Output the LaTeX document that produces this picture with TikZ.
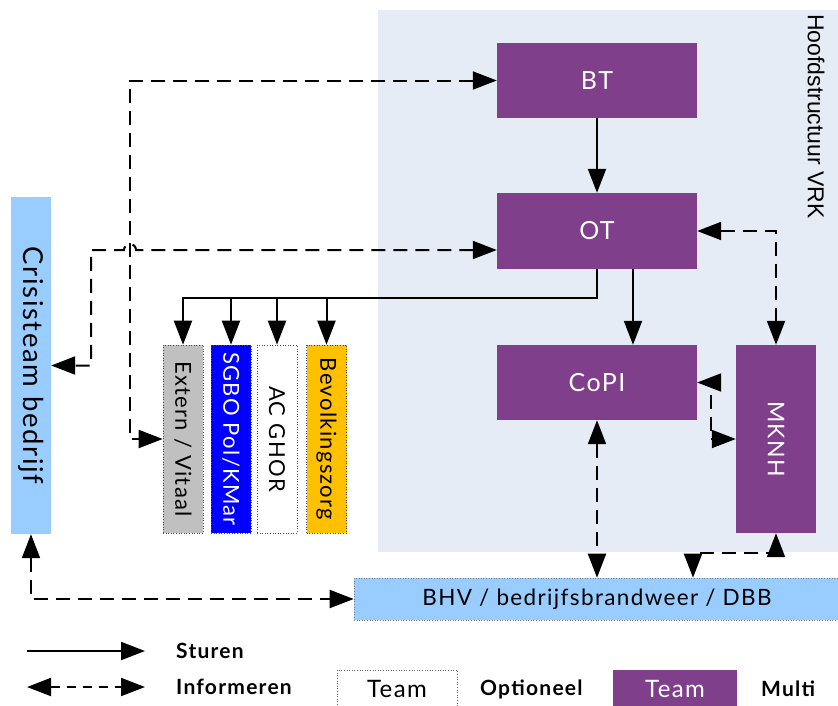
\documentclass[tikz,border=0pt]{standalone}
\usepackage{fontspec}
\usepackage{graphicx}
\setmainfont{Lato}[LetterSpace=6]
\newfontfamily\arialfont{Liberation Sans}
\usetikzlibrary{arrows.meta,calc}

\definecolor{vrkpaars}{RGB}{127,63,139}
\definecolor{vrkachter}{RGB}{230,236,246}
\definecolor{lichtblauw}{RGB}{153,204,255}
\definecolor{extgrijs}{RGB}{192,192,192}
\definecolor{sgboblauw}{RGB}{0,0,255}
\definecolor{bzoranje}{RGB}{255,192,0}

\begin{document}
\begin{tikzpicture}[x=1pt,y=-1pt,
    every node/.style={font=\fontsize{22}{26}\selectfont, inner sep=0pt},
    team/.style={fill=vrkpaars, text=white, minimum width=200pt, minimum height=75pt, font=\fontsize{25}{29}\selectfont},
    kolom/.style={draw=black!70, dotted, line width=0.6pt, minimum width=40pt, minimum height=188pt},
    stuur/.style={line width=2pt, -{Triangle[length=24pt,width=18pt]}},
    info/.style={line width=2pt, dash pattern=on 14pt off 8pt,
        {Triangle[length=24pt,width=18pt]}-{Triangle[length=24pt,width=18pt]}},
    legtekst/.style={font=\fontsize{21}{25}\selectfont\bfseries, anchor=west}]

    \useasboundingbox (0,0) rectangle (838,705);
    % hoofdstructuur
    \fill[vrkachter] (378,10) rectangle (838,552);
    \node[font=\arialfont\fontsize{23}{27}\selectfont, anchor=north] (hfd) at (816,14) {\rotatebox{-90}{Hoofdstructuur VRK}};

    \node[team] (bt) at (597,80.5) {BT};
    \node[team, minimum height=76pt] (ot) at (597,231) {OT};
    \node[team] (copi) at (597,382.5) {CoPI};
    \node[team, minimum width=80pt, minimum height=188pt, font=\fontsize{23}{27}\selectfont] (mknh) at (776,439) {\rotatebox{-90}{MKNH}};

    \node[fill=lichtblauw, minimum width=40pt, minimum height=337pt, font=\fontsize{27.5}{32}\selectfont] (crisis) at (31,365.5) {\rotatebox{-90}{Crisisteam bedrijf}};
    \node[kolom, fill=extgrijs] (ext) at (183,439) {\rotatebox{-90}{Extern / Vitaal}};
    \node[kolom, fill=sgboblauw, text=white] (sgbo) at (231,439) {\rotatebox{-90}{SGBO Pol/KMar}};
    \node[kolom, fill=white] (ghor) at (277,439) {\rotatebox{-90}{AC GHOR}};
    \node[kolom, fill=bzoranje] (bevz) at (326.5,439) {\rotatebox{-90}{Bevolkingszorg}};
    \node[draw=black!50, dotted, line width=0.6pt, fill=lichtblauw, minimum width=486pt, minimum height=42pt, font=\fontsize{22.5}{26}\selectfont] (bhv) at (597,599) {BHV / bedrijfsbrandweer / DBB};

    \coordinate (hopx) at (130,0);
    \coordinate (linksx) at (91,0);
    \coordinate (otin) at ($(ot.west)+(0,19)$);

    % sturen
    \draw[stuur] (bt.south) -- (ot.north);
    \draw[stuur] ($(ot.south)+(36,0)$) -- ($(copi.north)+(36,0)$);
    \foreach \k in {ext,sgbo,ghor,bevz}
        \draw[stuur] (ot.south) -- ++(0,29) -| (\k.north);

    % informeren
    \draw[info] (ot.east) -| (mknh.north);
    \draw[info] (copi.east) -- ++(14,0) |- (mknh.west);
    \draw[info] (copi.south) -- (copi.south |- bhv.north);
    \draw[info] (mknh.south) -- ++(0,20) -| ($(bhv.north)+(96,0)$);
    \draw[info] (crisis.south) |- (bhv.west);
    \draw[info] (bt.west) -| (hopx |- ext.west) -- (ext.west);
    \draw[info] (otin) -- ($(otin -| hopx)+(6,0)$) arc[start angle=0, end angle=-180, radius=6] -- (otin -| linksx) |- (crisis.east);

    % legenda
    \coordinate (s1) at (27,651);
    \coordinate (s2) at (145,651);
    \draw[stuur] (s1) -- (s2);
    \node[legtekst] (sturen) at (176,651) {Sturen};
    \coordinate (i1) at (27,687);
    \coordinate (i2) at (145,687);
    \draw[info, dash pattern=on 9pt off 7pt] (i1) -- (i2);
    \node[legtekst] (inform) at (176,687) {Informeren};
    \node[draw=black!60, dotted, line width=0.6pt, fill=white, minimum width=120pt, minimum height=38pt, font=\fontsize{24}{28}\selectfont] (optbox) at (397,689) {Team};
    \node[legtekst] (optioneel) at (480,689) {Optioneel};
    \node[fill=vrkpaars, text=white, minimum width=124pt, minimum height=38pt, font=\fontsize{24}{28}\selectfont] (multibox) at (675,689) {Team};
    \node[legtekst] (multi) at (761,689) {Multi};
\end{tikzpicture}
\end{document}
